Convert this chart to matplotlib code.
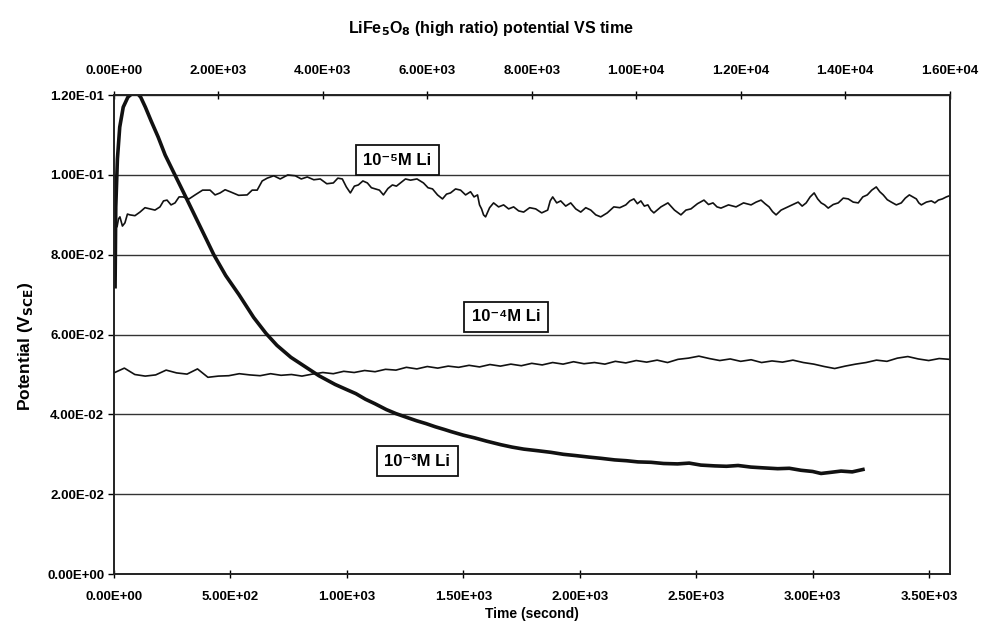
import matplotlib
matplotlib.use('agg')
from matplotlib import pyplot as plt
from matplotlib.ticker import FixedLocator, FuncFormatter

plt.rcParams['font.family'] = ['Liberation Sans', 'DejaVu Sans']
plt.rcParams['font.weight'] = 'bold'
plt.rcParams['axes.unicode_minus'] = False

# 10^-3 M Li, bottom time axis (s)
t_e3 = [5, 8, 15, 25, 40, 60, 80, 100, 115, 135, 160, 190, 220, 262, 300, 350, 400, 429,
        480, 537, 600, 653, 700, 760, 820, 880, 950, 1000, 1039, 1080, 1120, 1170, 1211,
        1260, 1300, 1340, 1380, 1420, 1447, 1500, 1550, 1600, 1662, 1710, 1760, 1820,
        1876, 1930, 1980, 2040, 2091, 2150, 2200, 2250, 2306, 2360, 2420, 2470, 2520,
        2580, 2630, 2680, 2735, 2790, 2850, 2900, 2950, 3000, 3036, 3080, 3122, 3170, 3216]
v_e3 = [0.072, 0.092, 0.104, 0.112, 0.117, 0.1195, 0.1205, 0.1205, 0.1195, 0.117, 0.1135,
        0.1095, 0.105, 0.100, 0.0955, 0.0895, 0.0835, 0.080, 0.0748, 0.070, 0.0643, 0.0603,
        0.0573, 0.0543, 0.052, 0.0497, 0.0475, 0.0462, 0.0452, 0.0438, 0.0427, 0.0412,
        0.0402, 0.0392, 0.0384, 0.0377, 0.0369, 0.0362, 0.0357, 0.0348, 0.0341, 0.0333,
        0.0324, 0.0318, 0.0313, 0.0309, 0.0305, 0.0300, 0.0297, 0.0293, 0.0290, 0.0286,
        0.0284, 0.0281, 0.0280, 0.0277, 0.0276, 0.0278, 0.0273, 0.0271, 0.0270, 0.0272,
        0.0268, 0.0266, 0.0264, 0.0265, 0.0260, 0.0257, 0.0252, 0.0255, 0.0258, 0.0256, 0.0262]

# 10^-5 M Li, top time axis (s)
t_e5 = [0, 30, 60, 88, 115, 163, 211, 259, 307, 403, 499, 595, 690, 786, 882, 950, 1017,
        1094, 1170, 1247, 1323, 1439, 1554, 1698, 1841, 1937, 2033, 2129, 2225, 2388, 2551,
        2647, 2743, 2839, 2935, 3060, 3184, 3328, 3472, 3587, 3702, 3827, 3951, 4076, 4201,
        4287, 4373, 4450, 4527, 4604, 4680, 4767, 4853, 4930, 5006, 5083, 5160, 5246, 5332,
        5409, 5486, 5582, 5678, 5803, 5927, 6014, 6100, 6196, 6291, 6368, 6445, 6541, 6637,
        6733, 6828, 6895, 6962, 7000, 7039, 7077, 7116, 7193, 7269, 7365, 7461, 7557, 7653,
        7749, 7845, 7960, 8075, 8190, 8305, 8353, 8401, 8478, 8554, 8650, 8746, 8842, 8938,
        9034, 9130, 9226, 9321, 9446, 9571, 9686, 9801, 9878, 9955, 10022, 10089, 10156,
        10223, 10281, 10338, 10473, 10607, 10732, 10856, 10952, 11048, 11173, 11297, 11384,
        11470, 11547, 11623, 11767, 11911, 12055, 12199, 12295, 12390, 12467, 12544, 12611,
        12678, 12774, 12870, 12985, 13100, 13177, 13254, 13330, 13407, 13474, 13541, 13608,
        13676, 13772, 13868, 13964, 14060, 14155, 14251, 14338, 14424, 14510, 14596, 14663,
        14730, 14807, 14884, 14980, 15075, 15152, 15229, 15296, 15363, 15411, 15459, 15555,
        15651, 15718, 15785, 15862, 15938, 16000]
v_e5 = [0.0860, 0.0880, 0.0870, 0.0890, 0.0895, 0.0872, 0.0880, 0.0902, 0.0900, 0.0898,
        0.0907, 0.0918, 0.0915, 0.0912, 0.0920, 0.0935, 0.0937, 0.0925, 0.0930, 0.0945,
        0.0945, 0.0940, 0.0950, 0.0962, 0.0962, 0.0950, 0.0955, 0.0963, 0.0958, 0.0949,
        0.0950, 0.0962, 0.0962, 0.0985, 0.0992, 0.0998, 0.0990, 0.1000, 0.0998, 0.0990,
        0.0995, 0.0988, 0.0990, 0.0978, 0.0980, 0.0992, 0.0990, 0.0970, 0.0955, 0.0972,
        0.0975, 0.0985, 0.0980, 0.0968, 0.0965, 0.0962, 0.0950, 0.0966, 0.0975, 0.0972,
        0.0980, 0.0990, 0.0987, 0.0990, 0.0980, 0.0968, 0.0965, 0.0950, 0.0940, 0.0952,
        0.0955, 0.0965, 0.0962, 0.0950, 0.0958, 0.0945, 0.0950, 0.0925, 0.0915, 0.0900,
        0.0895, 0.0918, 0.0930, 0.0920, 0.0925, 0.0915, 0.0920, 0.0910, 0.0907, 0.0918,
        0.0915, 0.0905, 0.0912, 0.0935, 0.0945, 0.0930, 0.0935, 0.0922, 0.0930, 0.0915,
        0.0907, 0.0918, 0.0912, 0.0900, 0.0895, 0.0905, 0.0920, 0.0918, 0.0925, 0.0935,
        0.0940, 0.0928, 0.0935, 0.0922, 0.0925, 0.0912, 0.0905, 0.0920, 0.0930, 0.0912,
        0.0900, 0.0912, 0.0915, 0.0928, 0.0937, 0.0926, 0.0930, 0.0920, 0.0917, 0.0925,
        0.0920, 0.0930, 0.0925, 0.0932, 0.0937, 0.0928, 0.0920, 0.0908, 0.0900, 0.0912,
        0.0918, 0.0925, 0.0932, 0.0922, 0.0930, 0.0945, 0.0955, 0.0940, 0.0930, 0.0925,
        0.0917, 0.0926, 0.0930, 0.0942, 0.0940, 0.0932, 0.0930, 0.0945, 0.0950, 0.0962,
        0.0970, 0.0958, 0.0950, 0.0938, 0.0932, 0.0925, 0.0930, 0.0942, 0.0950, 0.0945,
        0.0940, 0.0930, 0.0925, 0.0932, 0.0935, 0.0930, 0.0937, 0.0940, 0.0945, 0.0948]

# 10^-4 M Li, top time axis, every 200 s
t_e4 = list(range(0, 16001, 200))
v_e4 = [0.0504, 0.0516, 0.0500, 0.0496, 0.0499, 0.0511, 0.0504, 0.0501, 0.0514, 0.0493,
        0.0496, 0.0497, 0.0502, 0.0499, 0.0497, 0.0502, 0.0498, 0.0500, 0.0496, 0.0501,
        0.0505, 0.0502, 0.0508, 0.0505, 0.0510, 0.0507, 0.0513, 0.0511, 0.0518, 0.0514,
        0.0520, 0.0516, 0.0521, 0.0518, 0.0523, 0.0519, 0.0525, 0.0521, 0.0526, 0.0522,
        0.0528, 0.0524, 0.0530, 0.0526, 0.0532, 0.0527, 0.0530, 0.0526, 0.0533, 0.0529,
        0.0535, 0.0531, 0.0536, 0.0530, 0.0538, 0.0541, 0.0546, 0.0540, 0.0535, 0.0539,
        0.0533, 0.0537, 0.0530, 0.0534, 0.0531, 0.0536, 0.0530, 0.0526, 0.0520, 0.0515,
        0.0521, 0.0526, 0.0530, 0.0536, 0.0533, 0.0541, 0.0545, 0.0539, 0.0535, 0.0540,
        0.0538]

bottom_ticks = [0, 500, 1000, 1500, 2000, 2500, 3000, 3500]
top_ticks = [0, 2000, 4000, 6000, 8000, 10000, 12000, 14000, 16000]
y_ticks = [0.0, 0.02, 0.04, 0.06, 0.08, 0.10, 0.12]

sci = FuncFormatter(lambda v, p: '{:.2E}'.format(v))

fig = plt.figure(figsize=(9.82, 6.26), dpi=100)
ax = fig.add_axes([0.116, 0.083, 0.851, 0.765])
ax2 = ax.twiny()

ax.plot(t_e3, v_e3, color='#111111', lw=2.6)
ax2.plot(t_e5, v_e5, color='#111111', lw=1.2)
ax2.plot(t_e4, v_e4, color='#111111', lw=1.2)

ax.set_xlim(0, 3588)
ax2.set_xlim(0, 16000)
ax.set_ylim(0, 0.12)
ax.yaxis.set_major_locator(FixedLocator(y_ticks))
ax.xaxis.set_major_locator(FixedLocator(bottom_ticks))
ax2.xaxis.set_major_locator(FixedLocator(top_ticks))
for a in (ax, ax2):
    a.xaxis.set_major_formatter(sci)
    for s in a.spines.values():
        s.set_linewidth(1.2)
        s.set_color('#222222')
ax.yaxis.set_major_formatter(sci)
ax.yaxis.grid(True, color='#333333', lw=1.0)
ax.set_axisbelow(True)

ax.tick_params(axis='x', direction='inout', length=6, width=1, labelsize=9.5, pad=9)
ax.tick_params(axis='y', direction='out', length=4, width=1, labelsize=9.5, pad=3)
ax2.tick_params(axis='x', direction='inout', length=6, width=1, labelsize=9.5, pad=10)

ax.set_xlabel('Time (second)', fontsize=10, fontweight='bold', labelpad=3)
ax.set_ylabel('Potential (V$_{\\mathbf{SCE}}$)', fontsize=12.5, fontweight='bold')
ax.yaxis.set_label_coords(-0.095, 0.475)
fig.text(0.5, 0.955, 'LiFe$_{\\mathbf{5}}$O$_{\\mathbf{8}}$ (high ratio) potential VS time',
         ha='center', va='center', fontsize=11.5, fontweight='bold')

box = dict(boxstyle='square,pad=0.45', facecolor='white', edgecolor='#111111', lw=1.3)
labels = ['10⁻⁵M Li', '10⁻⁴M Li', '10⁻³M Li']
label_pos = [(0.339, 0.864), (0.469, 0.537), (0.363, 0.236)]
for txt, (lx, ly) in zip(labels, label_pos):
    ax.text(lx, ly, txt, transform=ax.transAxes, ha='center', va='center',
            fontsize=12, fontweight='bold', bbox=box, zorder=5)

fig.savefig('out.png', dpi=100, facecolor='white')
